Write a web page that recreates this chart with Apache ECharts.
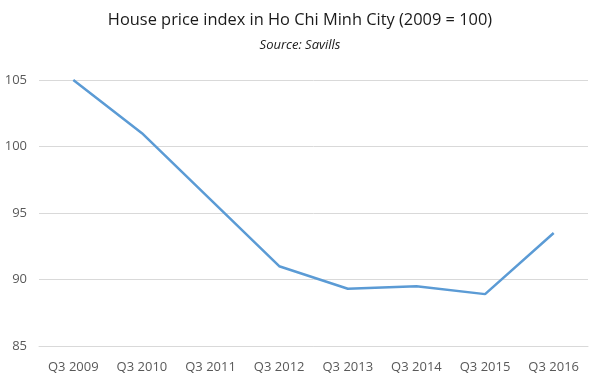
<!DOCTYPE html>
<html><head><meta charset="utf-8">
<script src="https://cdn.jsdelivr.net/npm/echarts@6/dist/echarts.min.js"></script>
<style>html,body{margin:0;padding:0;background:#fff}#c{width:600px;height:382px}</style>
</head><body><div id="c"></div>
<script>
const categories = ["Q3 2009","Q3 2010","Q3 2011","Q3 2012","Q3 2013","Q3 2014","Q3 2015","Q3 2016"];
const priceIndex = [105, 101, 96, 91, 89.3, 89.5, 88.9, 93.5];
const titleText = "House price index in Ho Chi Minh City (2009 = 100)";
const subtitleText = "Source: Savills";

const chart = echarts.init(document.getElementById('c'));
chart.setOption({
  animation: false,
  title: {
    text: titleText,
    subtext: subtitleText,
    left: 'center',
    top: 7,
    itemGap: 11,
    textStyle: {fontFamily: 'Open Sans', fontSize: 16.4, fontWeight: 'normal', color: '#1a1a1a'},
    subtextStyle: {fontFamily: 'Open Sans', fontSize: 13, fontStyle: 'italic', color: '#1a1a1a'}
  },
  grid: {left: 39, right: 12, top: 80, bottom: 36},
  xAxis: {
    type: 'category',
    data: categories,
    boundaryGap: true,
    axisLine: {show: true, lineStyle: {color: '#d9d9d9'}},
    axisTick: {show: false},
    axisLabel: {fontFamily: 'Open Sans', fontSize: 13, color: '#595959', margin: 15}
  },
  yAxis: {
    type: 'value',
    min: 85, max: 105, interval: 5,
    axisLine: {show: false},
    axisTick: {show: false},
    axisLabel: {fontFamily: 'Open Sans', fontSize: 13, color: '#595959', margin: 12},
    splitLine: {lineStyle: {color: '#d9d9d9', width: 1}}
  },
  series: [{
    type: 'line',
    data: priceIndex,
    symbol: 'none',
    lineStyle: {color: '#5b9bd5', width: 2.5},
    itemStyle: {color: '#5b9bd5'}
  }]
});
</script></body></html>
